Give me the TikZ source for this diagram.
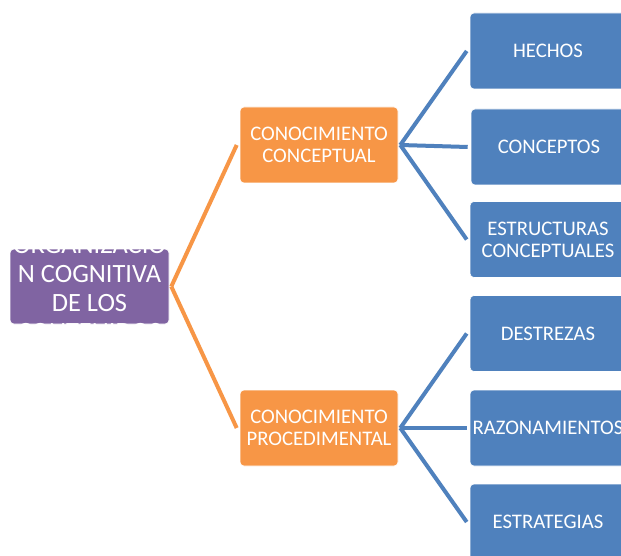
\documentclass[tikz,border=0pt]{standalone}
\usepackage{fontspec}
\setmainfont{Carlito}
\definecolor{cpurple}{HTML}{8064A2}
\definecolor{corange}{HTML}{F79646}
\definecolor{cblue}{HTML}{4F81BD}
\begin{document}
\begin{tikzpicture}[x=1pt,y=-1pt,
  box/.style={rectangle, rounded corners=4pt, draw=white, line width=0.6pt, minimum height=76pt, inner sep=0pt, text=white, align=center, font=\fontsize{20.7}{22}\selectfont},
  rootbox/.style={box, fill=cpurple, minimum width=159pt, minimum height=75pt},
  rootlabel/.style={text=white, align=center, inner sep=0pt, font=\fontsize{26.4}{29}\selectfont},
  midbox/.style={box, fill=corange, minimum width=158pt},
  leafbox/.style={box, fill=cblue, minimum width=156pt},
  olink/.style={draw=corange, line width=4pt, line join=miter},
  blink/.style={draw=cblue, line width=4pt, line join=miter}]
\fill[white] (0,0) rectangle (621,556);
\useasboundingbox (0,0) rectangle (621,556);

\node[rootbox] (root) at (89.5,286.5) {};
\node[rootlabel] (rootl) at (89.5,286.5) {ORGANIZACIÓ\\N COGNITIVA\\DE LOS\\CONTENIDOS};

\node[midbox] (cc) at (319,145) {CONOCIMIENTO\\CONCEPTUAL};
\node[midbox] (cp) at (319,428) {CONOCIMIENTO\\PROCEDIMENTAL};

\node[leafbox] (l1) at (548,51) {HECHOS};
\node[leafbox] (l2) at (549,147) {CONCEPTOS};
\node[leafbox] (l3) at (548,239.5) {ESTRUCTURAS\\CONCEPTUALES};
\node[leafbox] (l4) at (548,333.5) {DESTREZAS};
\node[leafbox] (l5) at (548,428) {RAZONAMIENTOS};
\node[leafbox] (l6) at (548,522) {ESTRATEGIAS};

\path[olink] ([xshift=2pt]root.east) -- ([xshift=-3pt]cc.west);
\path[olink] ([xshift=2pt]root.east) -- ([xshift=-3pt]cp.west);

\foreach \p/\c in {cc/l1,cc/l2,cc/l3,cp/l4,cp/l5,cp/l6}{
  \path[blink] ([xshift=2pt]\p.east) -- ([xshift=-3pt]\c.west);
}
\end{tikzpicture}
\end{document}
